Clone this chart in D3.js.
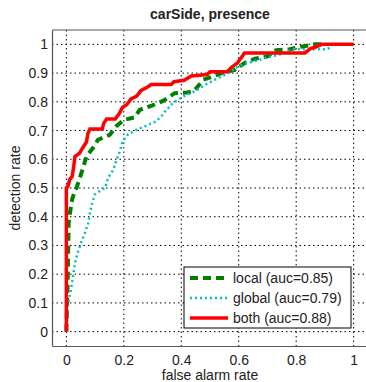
<!DOCTYPE html>
<html>
<head>
<meta charset="utf-8">
<script src="https://cdn.jsdelivr.net/npm/d3@7"></script>
<style>
  body { margin: 0; background: #fff; }
  text { font-family: "Liberation Sans", Arial, sans-serif; }
</style>
</head>
<body>
<div id="chart"></div>
<script>
// ROC curves, carSide presence

const title = "carSide, presence";
const xTicks = [0, 0.2, 0.4, 0.6, 0.8, 1];
const yTicks = [0, 0.1, 0.2, 0.3, 0.4, 0.5, 0.6, 0.7, 0.8, 0.9, 1];
const seriesNames = ["local (auc=0.85)", "global (auc=0.79)", "both (auc=0.88)"];

const localFa = [0, 0.005, 0.008, 0.012, 0.02, 0.03, 0.035, 0.047, 0.058, 0.07, 0.093, 0.11, 0.151, 0.175, 0.2, 0.238, 0.255, 0.3, 0.34, 0.377, 0.418, 0.44, 0.455, 0.476, 0.51, 0.54, 0.586, 0.62, 0.656, 0.7, 0.73, 0.777, 0.818, 0.864, 0.9];
const localDr = [0, 0.2, 0.38, 0.41, 0.46, 0.49, 0.5, 0.535, 0.57, 0.61, 0.64, 0.668, 0.685, 0.716, 0.737, 0.746, 0.772, 0.788, 0.805, 0.83, 0.832, 0.836, 0.85, 0.877, 0.888, 0.9, 0.911, 0.935, 0.95, 0.958, 0.98, 0.983, 0.992, 1, 1];

const globalFa = [0, 0.005, 0.006, 0.016, 0.024, 0.03, 0.041, 0.053, 0.064, 0.076, 0.082, 0.09, 0.099, 0.122, 0.134, 0.14, 0.145, 0.163, 0.175, 0.186, 0.195, 0.215, 0.245, 0.279, 0.31, 0.33, 0.343, 0.36, 0.37, 0.406, 0.45, 0.493, 0.528, 0.563, 0.586, 0.627, 0.673, 0.7, 0.737, 0.789, 0.905, 0.92];
const globalDr = [0, 0.08, 0.094, 0.146, 0.198, 0.239, 0.279, 0.314, 0.343, 0.378, 0.413, 0.448, 0.477, 0.494, 0.5, 0.517, 0.535, 0.563, 0.598, 0.627, 0.66, 0.687, 0.703, 0.717, 0.731, 0.748, 0.766, 0.784, 0.795, 0.818, 0.838, 0.865, 0.882, 0.9, 0.917, 0.935, 0.946, 0.955, 0.963, 0.983, 0.983, 0.99];

const bothFa = [0, 0, 0.005, 0.012, 0.02, 0.025, 0.03, 0.045, 0.057, 0.07, 0.075, 0.082, 0.125, 0.13, 0.14, 0.17, 0.185, 0.195, 0.21, 0.225, 0.245, 0.26, 0.28, 0.295, 0.365, 0.375, 0.41, 0.435, 0.49, 0.5, 0.56, 0.575, 0.595, 0.61, 0.62, 0.83, 0.85, 0.865, 0.89, 1];
const bothDr = [0, 0.5, 0.505, 0.53, 0.54, 0.57, 0.61, 0.62, 0.64, 0.66, 0.69, 0.705, 0.705, 0.725, 0.74, 0.74, 0.76, 0.78, 0.79, 0.81, 0.82, 0.84, 0.85, 0.86, 0.86, 0.87, 0.875, 0.89, 0.895, 0.905, 0.905, 0.92, 0.935, 0.955, 0.97, 0.97, 0.985, 0.99, 1, 1];

const width = 366, height = 382;
const svg = d3.select("#chart").append("svg")
    .attr("width", width)
    .attr("height", height);

const x = d3.scaleLinear().domain([-0.05, 1.05]).range([52, 368]);
const y = d3.scaleLinear().domain([-0.05, 1.05]).range([346, 30]);

// grid
svg.append("g").selectAll("line")
    .data(xTicks)
    .join("line")
    .attr("x1", d => x(d)).attr("x2", d => x(d))
    .attr("y1", y.range()[1]).attr("y2", y.range()[0])
    .attr("stroke", "#000")
    .attr("stroke-width", 1)
    .attr("stroke-dasharray", "1.5,3");

svg.append("g").selectAll("line")
    .data(yTicks)
    .join("line")
    .attr("x1", x.range()[0]).attr("x2", x.range()[1])
    .attr("y1", d => y(d)).attr("y2", d => y(d))
    .attr("stroke", "#000")
    .attr("stroke-width", 1)
    .attr("stroke-dasharray", "1.5,3");

// axes
const xAxis = svg.append("g")
    .attr("transform", `translate(0,${y.range()[0]})`)
    .call(d3.axisBottom(x).tickValues(xTicks).tickSize(0).tickPadding(9).tickFormat(d3.format("~g")));
const yAxis = svg.append("g")
    .attr("transform", `translate(${x.range()[0]},0)`)
    .call(d3.axisLeft(y).tickValues(yTicks).tickSize(0).tickPadding(4).tickFormat(d3.format("~g")));

[xAxis, yAxis].forEach(g => {
    g.select(".domain").attr("stroke", "#555").attr("stroke-width", 1.2);
    g.selectAll("text")
        .attr("font-size", 14)
        .attr("fill", "#222")
        .attr("font-family", "'Liberation Sans', Arial, sans-serif");
});

// top border
svg.append("line")
    .attr("x1", x.range()[0]).attr("x2", x.range()[1])
    .attr("y1", y.range()[1]).attr("y2", y.range()[1])
    .attr("stroke", "#555").attr("stroke-width", 1.2);

// curves
const line = d3.line().x(d => x(d[0])).y(d => y(d[1]));
const zip = (a, b) => a.map((v, i) => [v, b[i]]);

const styles = [
    { color: "#008000", width: 4, dash: "8,5" },
    { color: "#00c0c0", width: 2.5, dash: "2,3" },
    { color: "#ff0000", width: 3.5, dash: null }
];
const curves = [zip(localFa, localDr), zip(globalFa, globalDr), zip(bothFa, bothDr)];

curves.forEach((c, i) => {
    svg.append("path")
        .datum(c)
        .attr("d", line)
        .attr("fill", "none")
        .attr("stroke", styles[i].color)
        .attr("stroke-width", styles[i].width)
        .attr("stroke-dasharray", styles[i].dash);
});

// labels
svg.append("text")
    .attr("x", 210).attr("y", 19)
    .attr("text-anchor", "middle")
    .attr("font-size", 14)
    .attr("font-weight", "bold")
    .attr("fill", "#222")
    .text(title);

svg.append("text")
    .attr("x", 210).attr("y", 380)
    .attr("text-anchor", "middle")
    .attr("font-size", 14)
    .attr("fill", "#222")
    .text("false alarm rate");

svg.append("text")
    .attr("transform", `translate(20,${(y.range()[0] + y.range()[1]) / 2}) rotate(-90)`)
    .attr("text-anchor", "middle")
    .attr("font-size", 14)
    .attr("fill", "#222")
    .text("detection rate");

// legend
const legend = svg.append("g").attr("transform", "translate(184,267)");
legend.append("rect")
    .attr("width", 167).attr("height", 61)
    .attr("fill", "#fff")
    .attr("stroke", "#000")
    .attr("stroke-width", 1);

seriesNames.forEach((name, i) => {
    const yy = 11 + i * 20;
    legend.append("line")
        .attr("x1", 6).attr("x2", 44)
        .attr("y1", yy).attr("y2", yy)
        .attr("stroke", styles[i].color)
        .attr("stroke-width", styles[i].width)
        .attr("stroke-dasharray", styles[i].dash);
    legend.append("text")
        .attr("x", 49).attr("y", yy + 5)
        .attr("font-size", 14)
        .attr("fill", "#222")
        .text(name);
});
</script>
</body>
</html>
